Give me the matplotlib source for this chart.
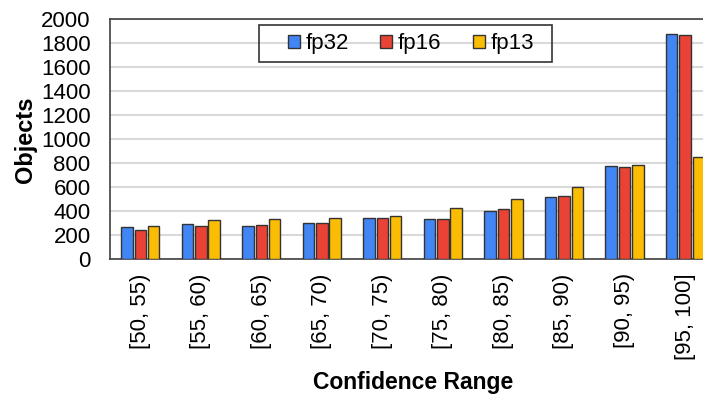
import numpy as np
import matplotlib.pyplot as plt
from matplotlib.patches import Rectangle

plt.rcParams['font.family'] = ['Liberation Sans', 'DejaVu Sans']

ranges = ['[50, 55)', '[55, 60)', '[60, 65)', '[65, 70)', '[70, 75)',
          '[75, 80)', '[80, 85)', '[85, 90)', '[90, 95)', '[95, 100]']
fp32 = [268, 292, 274, 302, 343, 338, 406, 516, 781, 1876]
fp16 = [247, 280, 290, 302, 343, 332, 416, 524, 767, 1870]
fp13 = [275, 324, 336, 344, 360, 424, 504, 602, 784, 848]

colors = ['#4285F4', '#EA4335', '#FBBC04']
series = [('fp32', fp32), ('fp16', fp16), ('fp13', fp13)]

W, H = 703, 396
fig = plt.figure(figsize=(W / 100, H / 100), dpi=100)
ax = fig.add_axes([0.1565, 0.345, 0.861, 0.607])

x = np.arange(len(ranges))
w = 0.19
step = 0.22
for i, (name, vals) in enumerate(series):
    ax.bar(x + (i - 1) * step, vals, width=w, color=colors[i],
           edgecolor='#333333', linewidth=1.0, label=name, zorder=3)

ax.set_xlim(-0.5, len(ranges) - 0.5)
ax.set_ylim(0, 2000)
ax.set_yticks(np.arange(0, 2001, 200))
ax.set_xticks(x)
ax.set_xticklabels(ranges, rotation=90, fontsize=16)
ax.tick_params(axis='y', labelsize=16, length=0, pad=14)
ax.tick_params(axis='x', length=0, pad=10)
ax.grid(axis='y', color='#d9d9d9', linewidth=1.5, zorder=0)

for s in ax.spines.values():
    s.set_color('#404040')
    s.set_linewidth(1.2)

ax.set_xlabel('Confidence Range', fontsize=16.5, fontweight='bold', va='center')
ax.xaxis.set_label_coords(0.5, -0.514)
fig.text(25 / W, 1 - 139.5 / H, 'Objects', rotation=90, fontsize=17,
         fontweight='bold', ha='center', va='center')

# legend: entries without frame, box drawn separately
leg = fig.legend(*ax.get_legend_handles_labels(), ncol=3, fontsize=16,
                 loc='center left', bbox_to_anchor=(288 / W, 1 - 44 / H),
                 frameon=False, handlelength=0.55, handleheight=0.55,
                 handletextpad=0.25, columnspacing=1.4, borderpad=0,
                 borderaxespad=0)
for p in leg.get_patches():
    p.set_edgecolor('#333333')
fig.patches.append(Rectangle((259 / W, 1 - 62 / H), 293 / W, 37 / H,
                             transform=fig.transFigure, fill=False,
                             edgecolor='#333333', linewidth=1.2, zorder=5))

fig.savefig('out.png', dpi=100)
